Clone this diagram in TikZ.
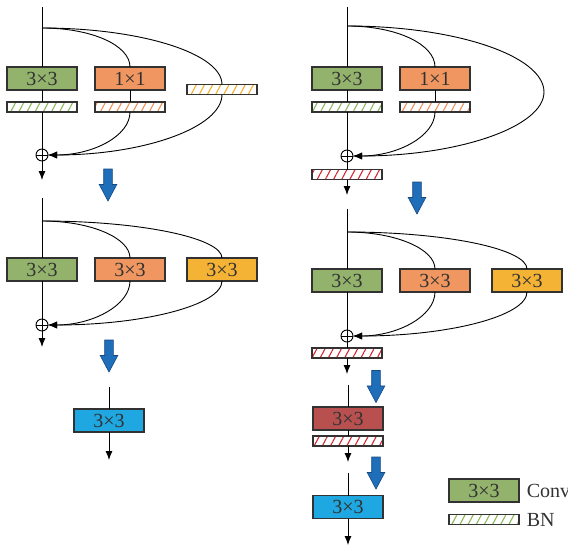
\documentclass[tikz,border=0pt]{standalone}
\usepackage{fontspec}
\setmainfont{Liberation Serif}
\usetikzlibrary{arrows.meta,patterns.meta,shapes.arrows}
\definecolor{convgreen}{RGB}{147,179,108}
\definecolor{convorange}{RGB}{240,150,96}
\definecolor{convyellow}{RGB}{245,179,54}
\definecolor{convred}{RGB}{184,80,80}
\definecolor{convblue}{RGB}{30,167,224}
\definecolor{hatchgreen}{RGB}{140,185,90}
\definecolor{hatchorange}{RGB}{240,145,90}
\definecolor{hatchyellow}{RGB}{245,175,45}
\definecolor{hatchred}{RGB}{215,40,50}
\definecolor{arrowblue}{RGB}{31,110,185}
\definecolor{arrowedge}{RGB}{22,72,130}
\definecolor{edgegray}{RGB}{50,50,50}
\begin{document}
\begin{tikzpicture}[x=1pt, y=-1pt, line width=0.9pt,
    every node/.style={font=\fontsize{20}{22}\selectfont, text=edgegray},
    convbox/.style={draw=edgegray, line width=1.1pt, minimum width=70pt, minimum height=23pt, inner sep=0pt, outer sep=0pt},
    bnbox/.style={draw=edgegray, line width=1.1pt, minimum width=70pt, minimum height=10pt, inner sep=0pt, outer sep=0pt,
        preaction={fill=white}, pattern={Lines[angle=62, distance=7.2pt, line width=1.1pt]}},
    addnode/.style={circle, draw, minimum size=12pt, inner sep=0pt, outer sep=0pt,
        path picture={\draw (path picture bounding box.north) -- (path picture bounding box.south)
            (path picture bounding box.west) -- (path picture bounding box.east);}},
    bluearrow/.style={single arrow, draw=arrowedge, fill=arrowblue, line width=0.6pt, rotate=-90,
        minimum height=32pt, inner sep=4pt, single arrow head extend=4.5pt, single arrow tip angle=56},
    flow/.style={-{Latex[length=9pt, width=7pt]}}]
                    \useasboundingbox (0,0) rectangle (568,546);

                    \coordinate (t1) at (42,7);
                    \coordinate (br1) at (42,28);
                    \node[convbox, fill=convgreen] (g1) at (42,78.5) {3×3};
                    \node[bnbox, pattern color=hatchgreen] (g1bn) at (42,107) {};
                    \node[convbox, fill=convorange] (o1) at (130,78.5) {1×1};
                    \node[bnbox, pattern color=hatchorange] (o1bn) at (130,107) {};
                    \node[bnbox, pattern color=hatchyellow] (y1bn) at (222,89.5) {};
                    \node[addnode] (s1) at (42,155) {};
                    \coordinate (e1) at (42,180);
                    \draw (t1) -- (g1.north);
                    \draw (g1.south) -- (g1bn.north);
                    \draw (g1bn.south) -- (s1.north);
                    \draw[flow] (s1.south) -- (e1);
                    \draw (o1.south) -- (o1bn.north);
                    \draw (br1) to[out=0, in=90, out distance=49pt, in distance=22pt] (o1.north);
                    \draw[flow] (o1bn.south) to[out=-90, in=0, out distance=24pt, in distance=45pt] (s1.east);
                    \draw (br1) to[out=0, in=90, out distance=99pt, in distance=31pt] (y1bn.north);
                    \draw[flow] (y1bn.south) to[out=-90, in=0, out distance=33pt, in distance=96pt] (s1.east);
                    \node[bluearrow] (a1) at (108,181) {};

                    \coordinate (t2) at (42,198);
                    \coordinate (br2) at (42,221);
                    \node[convbox, fill=convgreen] (g2) at (42,269.5) {3×3};
                    \node[convbox, fill=convorange] (o2) at (130,269.5) {3×3};
                    \node[convbox, fill=convyellow] (y2) at (222,269.5) {3×3};
                    \node[addnode] (s2) at (42,325) {};
                    \coordinate (e2) at (42,347);
                    \draw (t2) -- (g2.north);
                    \draw (g2.south) -- (s2.north);
                    \draw[flow] (s2.south) -- (e2);
                    \draw (br2) to[out=0, in=90, out distance=49pt, in distance=20pt] (o2.north);
                    \draw[flow] (o2.south) to[out=-90, in=0, out distance=24pt, in distance=45pt] (s2.east);
                    \draw (br2) to[out=0, in=90, out distance=99pt, in distance=20pt] (y2.north);
                    \draw[flow] (y2.south) to[out=-90, in=0, out distance=24pt, in distance=96pt] (s2.east);
                    \node[bluearrow] (a2) at (109,352) {};

                    \coordinate (t3) at (109,387);
                    \node[convbox, fill=convblue] (b1) at (109,420.5) {3×3};
                    \coordinate (e3) at (109,460);
                    \draw (t3) -- (b1.north);
                    \draw[flow] (b1.south) -- (e3);

                    \coordinate (t4) at (347,7);
                    \coordinate (br4) at (347,26);
                    \node[convbox, fill=convgreen] (g4) at (347,78.5) {3×3};
                    \node[bnbox, pattern color=hatchgreen] (g4bn) at (347,107) {};
                    \node[convbox, fill=convorange] (o4) at (435,78.5) {1×1};
                    \node[bnbox, pattern color=hatchorange] (o4bn) at (435,107) {};
                    \coordinate (c4) at (544,92);
                    \node[addnode] (s4) at (347,156) {};
                    \node[bnbox, pattern color=hatchred] (r4bn) at (347,174.5) {};
                    \coordinate (e4) at (347,195);
                    \draw (t4) -- (g4.north);
                    \draw (g4.south) -- (g4bn.north);
                    \draw (g4bn.south) -- (s4.north);
                    \draw (s4.south) -- (r4bn.north);
                    \draw[flow] (r4bn.south) -- (e4);
                    \draw (o4.south) -- (o4bn.north);
                    \draw (br4) to[out=0, in=90, out distance=49pt, in distance=23pt] (o4.north);
                    \draw[flow] (o4bn.south) to[out=-90, in=0, out distance=24pt, in distance=45pt] (s4.east);
                    \draw (br4) to[out=0, in=90, out distance=109pt, in distance=36pt] (c4);
                    \draw[flow] (c4) to[out=-90, in=0, out distance=35pt, in distance=105pt] (s4.east);
                    \node[bluearrow] (a4) at (417,194) {};

                    \coordinate (t5) at (347,209);
                    \coordinate (br5) at (347,232);
                    \node[convbox, fill=convgreen] (g5) at (347,280.5) {3×3};
                    \node[convbox, fill=convorange] (o5) at (435,280.5) {3×3};
                    \node[convbox, fill=convyellow] (y5) at (527,280.5) {3×3};
                    \node[addnode] (s5) at (347,336) {};
                    \node[bnbox, pattern color=hatchred] (r5bn) at (347,353) {};
                    \coordinate (e5) at (347,374);
                    \draw (t5) -- (g5.north);
                    \draw (g5.south) -- (s5.north);
                    \draw (s5.south) -- (r5bn.north);
                    \draw[flow] (r5bn.south) -- (e5);
                    \draw (br5) to[out=0, in=90, out distance=49pt, in distance=20pt] (o5.north);
                    \draw[flow] (o5.south) to[out=-90, in=0, out distance=24pt, in distance=45pt] (s5.east);
                    \draw (br5) to[out=0, in=90, out distance=99pt, in distance=20pt] (y5.north);
                    \draw[flow] (y5.south) to[out=-90, in=0, out distance=24pt, in distance=96pt] (s5.east);
                    \node[bluearrow] (a5) at (376,382.5) {};

                    \coordinate (t6) at (348,385);
                    \node[convbox, fill=convred] (r6) at (348,418.5) {3×3};
                    \node[bnbox, pattern color=hatchred] (r6bn) at (348,441) {};
                    \coordinate (e6) at (348,462);
                    \draw (t6) -- (r6.north);
                    \draw (r6.south) -- (r6bn.north);
                    \draw[flow] (r6bn.south) -- (e6);
                    \node[bluearrow] (a6) at (376,469) {};

                    \coordinate (t7) at (348,473);
                    \node[convbox, fill=convblue] (b7) at (348,507) {3×3};
                    \coordinate (e7) at (348,545);
                    \draw (t7) -- (b7.north);
                    \draw[flow] (b7.south) -- (e7);

                    \node[convbox, fill=convgreen] (lg) at (484,490.5) {3×3};
                    \node[anchor=west] (lconv) at (523,490.5) {Conv};
                    \node[bnbox, pattern color=hatchgreen] (lb) at (484,519.5) {};
                    \node[anchor=west] (lbn) at (523,519.5) {BN};
                \end{tikzpicture}
\end{document}
